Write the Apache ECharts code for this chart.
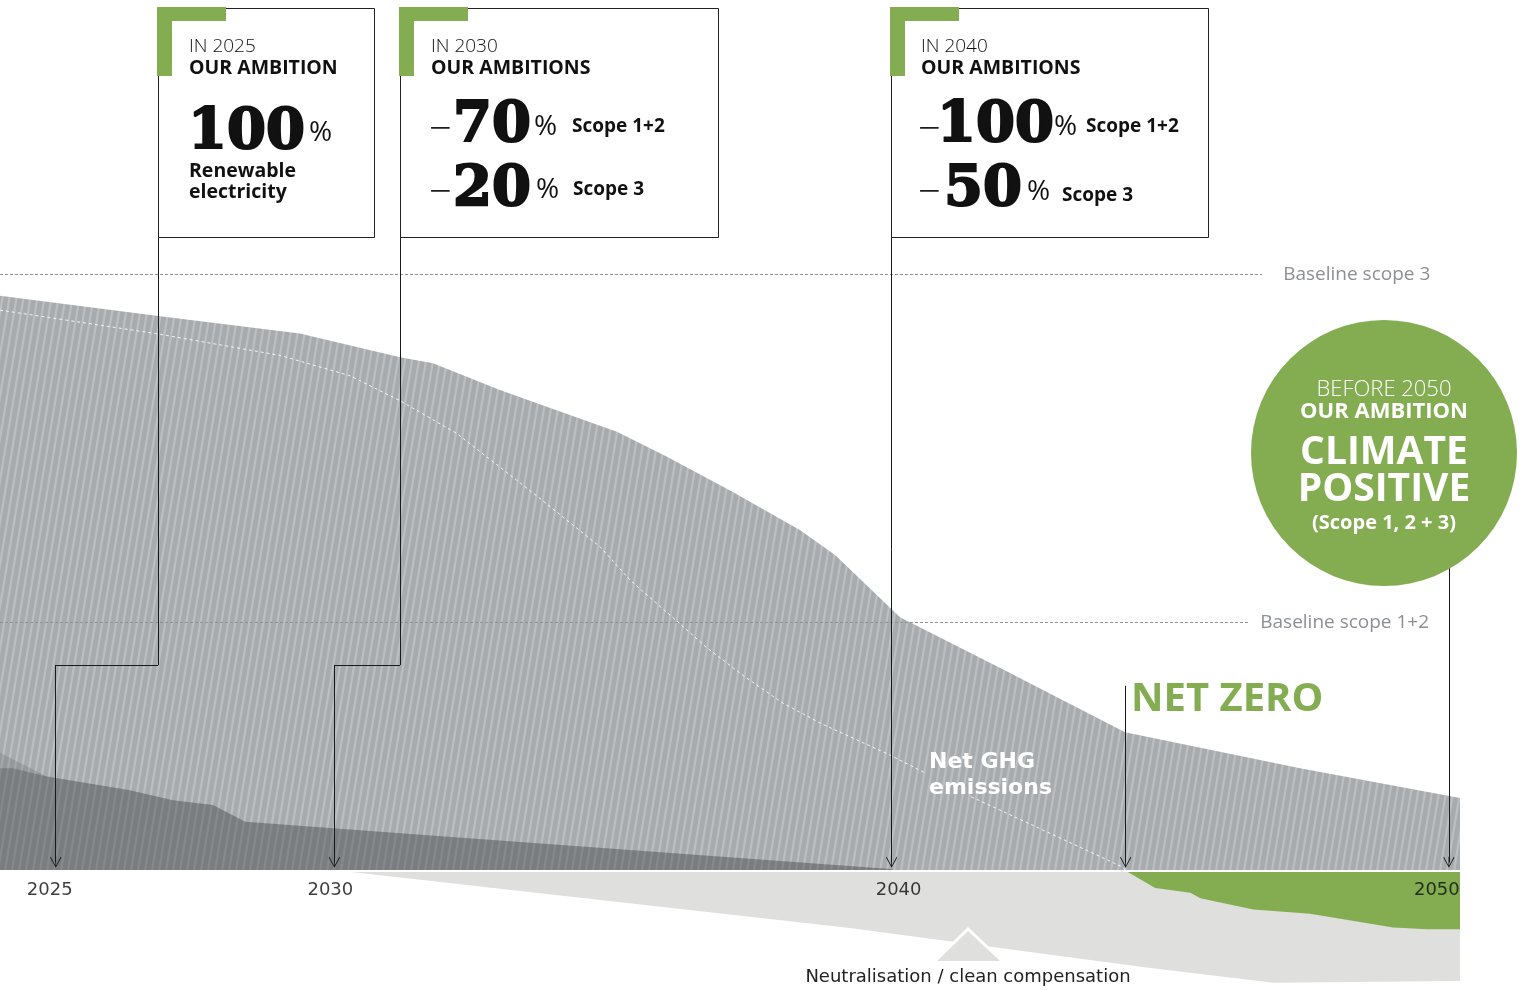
<!DOCTYPE html>
<html><head><meta charset="utf-8">
<script src="https://cdn.jsdelivr.net/npm/echarts@6/dist/echarts.min.js"></script>
<style>html,body{margin:0;padding:0;background:#fff}#c{width:1525px;height:990px}</style>
</head><body><div id="c"></div>
<script>
// ---- data (index: baseline scope 3 = 100) ----
const axisYears = [2025, 2030, 2040, 2050];
const totalYears  = [2024.0, 2026.84, 2029.38, 2031.18, 2031.77, 2032.97, 2035.07, 2035.97, 2037.15, 2038.36, 2038.99, 2040.15, 2041.95, 2044.19, 2047.33, 2050.2];
const totalValues = [96.4, 93.0, 90.1, 86.1, 85.1, 80.6, 73.6, 69.4, 63.5, 57.1, 52.9, 42.5, 34.0, 23.2, 17.2, 12.2];
const directYears  = [2024.0, 2024.23, 2024.84, 2026.33, 2027.1, 2027.82, 2028.4, 2031.18, 2039.97, 2040.1];
const directValues = [17.2, 17.2, 15.8, 13.5, 11.8, 11.0, 8.2, 6.3, 0.3, 0];
const upperYears  = [2024.0, 2024.84];
const upperValues = [19.8, 15.8];
const pathYears  = [2024.0, 2026.84, 2029.03, 2030.28, 2031.18, 2032.2, 2033.57, 2034.77, 2035.31, 2036.13, 2036.67, 2037.37, 2038.05, 2038.73, 2039.97, 2040.6, 2041.0, 2041.43, 2044.15, 2044.2];
const pathValues = [94.0, 90.0, 86.4, 83.0, 78.8, 73.3, 63.3, 54.3, 48.7, 42.0, 37.5, 32.5, 28.1, 24.7, 19.4, 16.4, null, 12.4, 0.6, 0];
const compYears  = [2030.1, 2039.25, 2044.64, 2046.85, 2050.2];
const compValues = [0, -9.6, -16.3, -18.8, -18.5];
const removalYears  = [2044.2, 2044.73, 2045.36, 2045.54, 2046.49, 2047.51, 2049.0, 2049.61, 2050.2];
const removalValues = [0, -2.9, -3.7, -4.6, -6.5, -7.2, -9.5, -9.8, -9.8];
const baselineScope3 = 100;
const baselineScope12 = 41.6;
const netZeroYear = 2044.2;
const milestoneYears = [2025, 2030, 2040, 2050];

const zip = (xs, ys) => xs.map((x, i) => [x, ys[i]]);

function stripePattern(base, stripe) {
  const W = 7, H = 42, sw = 2.2;
  const c = document.createElement('canvas'); c.width = W; c.height = H;
  const g = c.getContext('2d');
  g.fillStyle = base; g.fillRect(0, 0, W, H);
  g.fillStyle = stripe;
  for (let k = -2; k <= 1; k++) {
    const x0 = 2 + k * W;
    g.beginPath();
    g.moveTo(x0 + W, 0); g.lineTo(x0 + W + sw, 0); g.lineTo(x0 + sw, H); g.lineTo(x0, H);
    g.closePath(); g.fill();
  }
  return c;
}

const GREEN = '#84ad52';
const SANS = '"Open Sans", "Noto Sans", sans-serif';
const SERIF = '"DejaVu Serif", serif';
const DEJA = '"DejaVu Sans", sans-serif';
const boxBottom = 106.3, elbow = 34.5, tip = 1.4;

const chart = echarts.init(document.getElementById('c'), null, {renderer: 'canvas'});

function areaSeries(data, color, z) {
  return {type: 'line', data, showSymbol: false, symbol: 'none', silent: true, z,
    lineStyle: {width: 0}, areaStyle: {color, opacity: 1}};
}

const connectorSegs = [
  [[milestoneYears[0] + 1.84, boxBottom], [milestoneYears[0] + 1.84, elbow]],
  [[milestoneYears[0] + 1.84, elbow], [milestoneYears[0], elbow]],
  [[milestoneYears[1] + 1.18, boxBottom], [milestoneYears[1] + 1.18, elbow]],
  [[milestoneYears[1] + 1.18, elbow], [milestoneYears[1], elbow]]
];
const arrowSegs = [
  [[milestoneYears[0], elbow], [milestoneYears[0], tip]],
  [[milestoneYears[1], elbow], [milestoneYears[1], tip]],
  [[milestoneYears[2], boxBottom], [milestoneYears[2], tip]],
  [[netZeroYear, 31.0], [netZeroYear, tip]],
  [[milestoneYears[3], 52], [milestoneYears[3], tip]]
];

const labelShift = {2025: -6, 2030: -4, 2040: 7, 2050: -12};

function txt(text, x, y, font, opts) {
  return Object.assign({type: 'text', x, y, z: 100, silent: true,
    style: Object.assign({text, font, fill: '#111', textAlign: 'left', textVerticalAlign: 'middle'}, opts || {})});
}
function big(text, x, y) {
  return txt(text, x, y, '700 56px ' + SERIF, {stroke: '#111', lineWidth: 2.2});
}
function box(x, w) {
  return [
    {type: 'rect', z: 99, shape: {x: x + 0.5, y: 8.5, width: w, height: 229}, style: {fill: '#fff', stroke: '#222', lineWidth: 1}},
    {type: 'rect', z: 100, shape: {x: x - 1, y: 7, width: 69, height: 14}, style: {fill: GREEN}},
    {type: 'rect', z: 100, shape: {x: x - 1, y: 7, width: 15, height: 69}, style: {fill: GREEN}}
  ];
}
const H1 = '300 19px ' + SANS, H2 = '700 19.5px ' + SANS, PCT = '400 28px ' + SANS, MINUS = '300 40px ' + SANS, SC = '700 19px ' + SANS;

const graphics = [].concat(
  box(158, 216),
  [
    txt('IN 2025', 189, 47, H1),
    txt('OUR AMBITION', 189, 68, H2),
    big('100', 188, 133),
    txt('%', 309, 133, PCT),
    txt('Renewable', 189, 171, H2),
    txt('electricity', 189, 192, H2)
  ],
  box(400, 318),
  [
    txt('IN 2030', 431, 47, H1),
    txt('OUR AMBITIONS', 431, 68, H2),
    txt('−', 429, 131, MINUS),
    big('70', 453, 126),
    txt('%', 534, 127, PCT),
    txt('Scope 1+2', 572, 127, SC),
    txt('−', 429, 194, MINUS),
    big('20', 453, 190),
    txt('%', 536, 190, PCT),
    txt('Scope 3', 573, 190, SC)
  ],
  box(891, 317),
  [
    txt('IN 2040', 921, 47, H1),
    txt('OUR AMBITIONS', 921, 68, H2),
    txt('−', 918, 131, MINUS),
    big('100', 937, 126),
    txt('%', 1054, 127, PCT),
    txt('Scope 1+2', 1086, 127, SC),
    txt('−', 918, 194, MINUS),
    big('50', 944, 190),
    txt('%', 1027, 192, PCT),
    txt('Scope 3', 1062, 196, SC)
  ],
  [
    {type: 'circle', z: 99, shape: {cx: 1384, cy: 453, r: 133}, style: {fill: GREEN}},
    txt('BEFORE 2050', 1384, 390, '300 22px ' + SANS, {fill: '#fff', textAlign: 'center'}),
    txt('OUR AMBITION', 1384, 412, '700 22px ' + SANS, {fill: '#fff', textAlign: 'center'}),
    txt('CLIMATE', 1384, 453, '700 39px ' + SANS, {fill: '#fff', textAlign: 'center'}),
    txt('POSITIVE', 1384, 490, '700 39px ' + SANS, {fill: '#fff', textAlign: 'center'}),
    txt('(Scope 1, 2 + 3)', 1384, 523, '700 20px ' + SANS, {fill: '#fff', textAlign: 'center'}),
    txt('NET ZERO', 1131, 700, '700 40px ' + SANS, {fill: GREEN}),
    txt('Net GHG', 929, 762, '700 22px ' + DEJA, {fill: '#fff'}),
    txt('emissions', 929, 788, '700 22px ' + DEJA, {fill: '#fff'}),
    {type: 'polygon', z: 98, shape: {points: [[935, 961], [968, 929], [1002, 961]]}, style: {fill: '#dfe0de'}},
    {type: 'polyline', z: 98, shape: {points: [[935, 961], [968, 929], [1002, 961]]}, style: {stroke: '#fff', lineWidth: 3, fill: null}},
    txt('Neutralisation / clean compensation', 968, 977, '18px ' + DEJA, {fill: '#222', textAlign: 'center'})
  ]
);

const option = {
  animation: false,
  backgroundColor: '#fff',
  grid: {left: 0, right: 65, top: 0, bottom: 0, containLabel: false, outerBoundsMode: 'none'},
  xAxis: {
    type: 'value', min: 2024, max: 2050.2, z: 3,
    splitLine: {show: false}, axisTick: {show: false}, axisLabel: {show: false},
    axisLine: {show: true, onZero: true, lineStyle: {color: '#fff', width: 2}}
  },
  yAxis: {type: 'value', min: -20, max: 146, show: false},
  graphic: {elements: graphics},
  series: [
    areaSeries(zip(totalYears, totalValues), {image: stripePattern('#a8abae', '#bcbfc2'), repeat: 'repeat'}, 1),
    areaSeries(zip(compYears, compValues), '#dfe0de', 1),
    areaSeries(zip(upperYears.concat(directYears.slice(2)), upperValues.concat(directValues.slice(2))), 'rgba(55,58,62,0.17)', 2),
    areaSeries(zip(directYears, directValues), 'rgba(55,58,62,0.28)', 2),
    areaSeries(zip(removalYears, removalValues), GREEN, 2),
    {type: 'line', data: zip(pathYears, pathValues), showSymbol: false, symbol: 'none', silent: true, z: 3,
      connectNulls: false, lineStyle: {color: 'rgba(255,255,255,0.85)', width: 1, type: [3, 3]}},
    {type: 'line', data: [], silent: true, z: 3,
      markLine: {silent: true, symbol: 'none', animation: false,
        lineStyle: {color: '#8f9296', width: 1, type: [3, 2]},
        label: {show: true, position: 'end', color: '#8c8f93', fontSize: 19, fontFamily: SANS},
        data: [
          [{coord: [2024, baselineScope3], label: {formatter: 'Baseline scope 3', distance: 21}}, {coord: [2046.65, baselineScope3]}],
          [{coord: [2024, baselineScope12], label: {formatter: 'Baseline scope 1+2', distance: 12}}, {coord: [2046.4, baselineScope12]}]
        ]
      }},
    // year labels on the time axis, placed through the x scale
    {type: 'scatter', silent: true, z: 6, symbolSize: 0,
      data: axisYears.map(y => ({value: [y, 0], label: {offset: [labelShift[y] || 0, 0]}})),
      label: {show: true, position: 'bottom', distance: 11, color: '#0d0d0d', fontSize: 18, fontFamily: DEJA,
        formatter: p => String(p.value[0])}},
    {type: 'lines', coordinateSystem: 'cartesian2d', silent: true, z: 5, symbol: ['none', 'none'],
      lineStyle: {color: '#1a1a1a', width: 1, opacity: 1},
      data: connectorSegs.map(c => ({coords: c}))},
    {type: 'lines', coordinateSystem: 'cartesian2d', silent: true, z: 5,
      symbol: ['none', 'path://M10,0 L20,10 L19,11 L10.7,2.4 L10.7,11 L9.3,11 L9.3,2.4 L1,11 L0,10 Z'],
      symbolSize: [19, 11],
      lineStyle: {color: '#1a1a1a', width: 1, opacity: 1},
      data: arrowSegs.map(c => ({coords: c}))}
  ]
};
chart.setOption(option);
</script>
</body></html>
